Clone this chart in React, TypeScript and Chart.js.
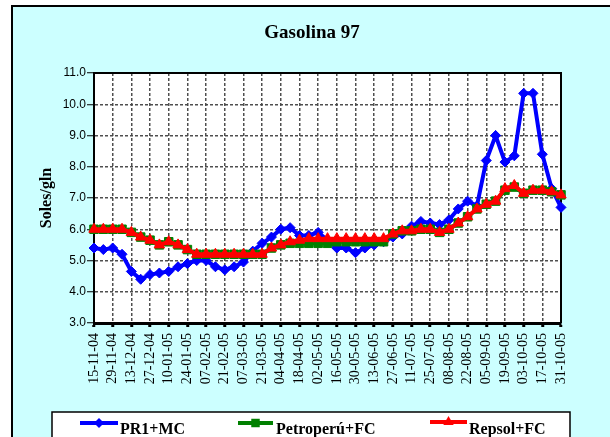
import React, { useEffect, useRef } from 'react';
import { Chart, registerables } from 'chart.js';

Chart.register(...registerables);

const SERIF = "'Liberation Serif', 'Times New Roman', serif";
const SANS = "'Liberation Sans', Arial, sans-serif";

const titleText = 'Gasolina 97';

const dates = [
  '15-11-04', '22-11-04', '29-11-04', '06-12-04', '13-12-04', '20-12-04', '27-12-04',
  '03-01-05', '10-01-05', '17-01-05', '24-01-05', '31-01-05', '07-02-05', '14-02-05',
  '21-02-05', '28-02-05', '07-03-05', '14-03-05', '21-03-05', '28-03-05', '04-04-05',
  '11-04-05', '18-04-05', '25-04-05', '02-05-05', '09-05-05', '16-05-05', '23-05-05',
  '30-05-05', '06-06-05', '13-06-05', '20-06-05', '27-06-05', '04-07-05', '11-07-05',
  '18-07-05', '25-07-05', '01-08-05', '08-08-05', '15-08-05', '22-08-05', '29-08-05',
  '05-09-05', '12-09-05', '19-09-05', '26-09-05', '03-10-05', '10-10-05', '17-10-05',
  '24-10-05', '31-10-05',
];

const pr1mc = [
  5.4, 5.35, 5.4, 5.2, 4.65, 4.4, 4.55, 4.6, 4.65, 4.8,
  4.9, 5.0, 5.0, 4.8, 4.7, 4.8, 4.95, 5.3, 5.55, 5.75,
  6.0, 6.05, 5.8, 5.8, 5.9, 5.65, 5.4, 5.4, 5.25, 5.4,
  5.5, 5.6, 5.75, 5.85, 6.1, 6.25, 6.2, 6.15, 6.3, 6.65,
  6.9, 6.75, 8.2, 9.0, 8.15, 8.35, 10.35, 10.35, 8.4, 7.3,
  6.7,
];

const petroperu = [
  6.0, 6.0, 6.0, 6.0, 5.9, 5.75, 5.65, 5.5, 5.6, 5.5,
  5.35, 5.2, 5.2, 5.2, 5.2, 5.2, 5.2, 5.2, 5.2, 5.4,
  5.5, 5.55, 5.55, 5.55, 5.55, 5.55, 5.6, 5.6, 5.6, 5.6,
  5.6, 5.6, 5.85, 5.95, 5.95, 6.0, 6.0, 5.9, 6.0, 6.2,
  6.4, 6.65, 6.8, 6.9, 7.25, 7.35, 7.15, 7.25, 7.25, 7.2,
  7.1,
];

const repsol = [
  6.0, 6.0, 6.0, 6.0, 5.9, 5.75, 5.65, 5.5, 5.6, 5.5,
  5.35, 5.2, 5.2, 5.2, 5.2, 5.2, 5.2, 5.2, 5.2, 5.4,
  5.5, 5.6, 5.65, 5.7, 5.7, 5.7, 5.7, 5.7, 5.7, 5.7,
  5.7, 5.7, 5.85, 5.95, 5.95, 6.0, 6.0, 5.9, 6.0, 6.2,
  6.4, 6.65, 6.8, 6.9, 7.3, 7.4, 7.15, 7.25, 7.25, 7.2,
  7.1,
];

const yTicks = [3, 4, 5, 6, 7, 8, 9, 10, 11];

const GRID = 'rgba(70,70,70,0.95)';
const CLEAR = 'rgba(0,0,0,0)';

function drawMarker(ctx: CanvasRenderingContext2D, style: string, x: number, y: number, r: number, color: string) {
  ctx.save();
  ctx.fillStyle = color;
  ctx.beginPath();
  if (style === 'rectRot') {
    ctx.moveTo(x - r, y);
    ctx.lineTo(x, y - r);
    ctx.lineTo(x + r, y);
    ctx.lineTo(x, y + r);
  } else if (style === 'rect') {
    const s = r * Math.SQRT1_2;
    ctx.rect(x - s, y - s, 2 * s, 2 * s);
  } else {
    ctx.moveTo(x, y - r);
    ctx.lineTo(x + r * Math.sin(Math.PI * 2 / 3), y - r * Math.cos(Math.PI * 2 / 3));
    ctx.lineTo(x - r * Math.sin(Math.PI * 2 / 3), y - r * Math.cos(Math.PI * 2 / 3));
  }
  ctx.closePath();
  ctx.fill();
  ctx.restore();
}

const framePlugin = {
  id: 'frame',
  beforeDraw(chart: any) {
    const { ctx, chartArea: a } = chart;
    ctx.save();
    ctx.fillStyle = '#ffffff';
    ctx.fillRect(0, 0, chart.width, chart.height);
    ctx.fillStyle = '#CCFFFF';
    ctx.fillRect(12, 6, chart.width, chart.height);
    ctx.strokeStyle = '#000';
    ctx.lineWidth = 2;
    ctx.strokeRect(12, 6, chart.width + 20, chart.height + 20);
    ctx.fillStyle = '#ffffff';
    ctx.fillRect(a.left, a.top, a.right - a.left, a.bottom - a.top);
    ctx.fillStyle = '#000';
    ctx.font = `bold 19px ${SERIF}`;
    ctx.textAlign = 'center';
    ctx.textBaseline = 'alphabetic';
    ctx.fillText(titleText, 312, 38);
    ctx.restore();
  },
  beforeDatasetsDraw(chart: any) {
    const { ctx, chartArea: a } = chart;
    ctx.save();
    ctx.strokeStyle = '#000';
    ctx.lineWidth = 2;
    ctx.beginPath();
    ctx.moveTo(a.left, a.top);
    ctx.lineTo(a.right, a.top);
    ctx.lineTo(a.right, a.bottom);
    ctx.stroke();
    ctx.restore();
  },
  afterDraw(chart: any) {
    const { ctx } = chart;
    ctx.save();
    ctx.fillStyle = '#ffffff';
    ctx.fillRect(52, 412, 518, 40);
    ctx.strokeStyle = '#000';
    ctx.lineWidth = 1.5;
    ctx.strokeRect(52, 412, 518, 40);
    const items = [
      { x1: 80, x2: 118, y: 423, tx: 120 },
      { x1: 238, x2: 273, y: 423, tx: 276 },
      { x1: 430, x2: 467, y: 422, tx: 469 },
    ];
    chart.data.datasets.forEach((ds: any, i: number) => {
      const it = items[i];
      ctx.strokeStyle = ds.borderColor;
      ctx.lineWidth = 4;
      ctx.beginPath();
      ctx.moveTo(it.x1, it.y);
      ctx.lineTo(it.x2, it.y);
      ctx.stroke();
      drawMarker(ctx, ds.pointStyle, (it.x1 + it.x2) / 2, it.y, ds.pointRadius, ds.backgroundColor);
      ctx.fillStyle = '#000';
      ctx.font = `bold 16px ${SERIF}`;
      ctx.textAlign = 'left';
      ctx.textBaseline = 'alphabetic';
      ctx.fillText(ds.label, it.tx, 434);
    });
    ctx.restore();
  },
};

export default function App() {
  const ref = useRef<HTMLCanvasElement>(null);

  useEffect(() => {
    document.body.style.margin = '0';
    const canvas = ref.current;
    if (!canvas) return;
    const chart = new Chart(canvas, {
      type: 'line',
      data: {
        labels: dates,
        datasets: [
          {
            label: 'PR1+MC',
            data: pr1mc,
            borderColor: '#0000FF',
            backgroundColor: '#0000FF',
            borderWidth: 4,
            pointStyle: 'rectRot',
            pointRadius: 5,
            pointBorderWidth: 1,
            tension: 0,
            order: 3,
            clip: false,
          } as any,
          {
            label: 'Petroperú+FC',
            data: petroperu,
            borderColor: '#008000',
            backgroundColor: '#008000',
            borderWidth: 4,
            pointStyle: 'rect',
            pointRadius: 6,
            pointBorderWidth: 1,
            tension: 0,
            order: 2,
            clip: false,
          } as any,
          {
            label: 'Repsol+FC',
            data: repsol,
            borderColor: '#FF0000',
            backgroundColor: '#FF0000',
            borderWidth: 4,
            pointStyle: 'triangle',
            pointRadius: 6,
            pointBorderWidth: 1,
            tension: 0,
            order: 1,
            clip: false,
          } as any,
        ],
      },
      options: {
        animation: false,
        responsive: false,
        events: [],
        layout: { padding: { left: 37, right: 49, top: 73, bottom: 0 } },
        plugins: {
          legend: { display: false },
          tooltip: { enabled: false },
          title: { display: false },
        },
        scales: {
          x: {
            type: 'category',
            offset: false,
            grid: {
              color: (c: any) => (c.index % 2 === 0 ? GRID : CLEAR),
              lineWidth: 1.5,
              tickColor: (c: any) => (c.index % 2 === 0 ? '#000' : CLEAR),
              tickWidth: 3,
              tickLength: 4,
              tickBorderDash: [],
            },
            border: { display: true, color: '#000', width: 3, dash: [3, 2] },
            ticks: {
              autoSkip: false,
              maxRotation: 90,
              minRotation: 90,
              padding: 6,
              color: '#000',
              font: { family: SERIF, size: 14 },
              callback: (_v: any, i: number) => (i % 2 === 0 ? dates[i] : ''),
            },
            afterFit: (s: any) => {
              s.height = 114;
            },
          } as any,
          y: {
            min: yTicks[0],
            max: yTicks[yTicks.length - 1],
            grid: {
              color: GRID,
              lineWidth: 1.5,
              tickColor: '#000',
              tickWidth: 1,
              tickLength: 7,
              tickBorderDash: [],
            },
            border: { display: true, color: '#000', width: 2, dash: [3, 2] },
            ticks: {
              stepSize: 1,
              padding: 1,
              color: '#000',
              font: { family: SANS, size: 12 },
              callback: (v: any) => Number(v).toFixed(1),
            },
            title: {
              display: true,
              text: 'Soles/gln',
              color: '#000',
              font: { family: SERIF, size: 16, weight: 'bold' },
              padding: 0,
            },
            afterFit: (s: any) => {
              s.width = 57;
            },
          } as any,
        },
      },
      plugins: [framePlugin],
    });
    return () => chart.destroy();
  }, []);

  return (
    <div style={{ width: 610, height: 437 }}>
      <canvas ref={ref} width={610} height={437} style={{ display: 'block' }} />
    </div>
  );
}
